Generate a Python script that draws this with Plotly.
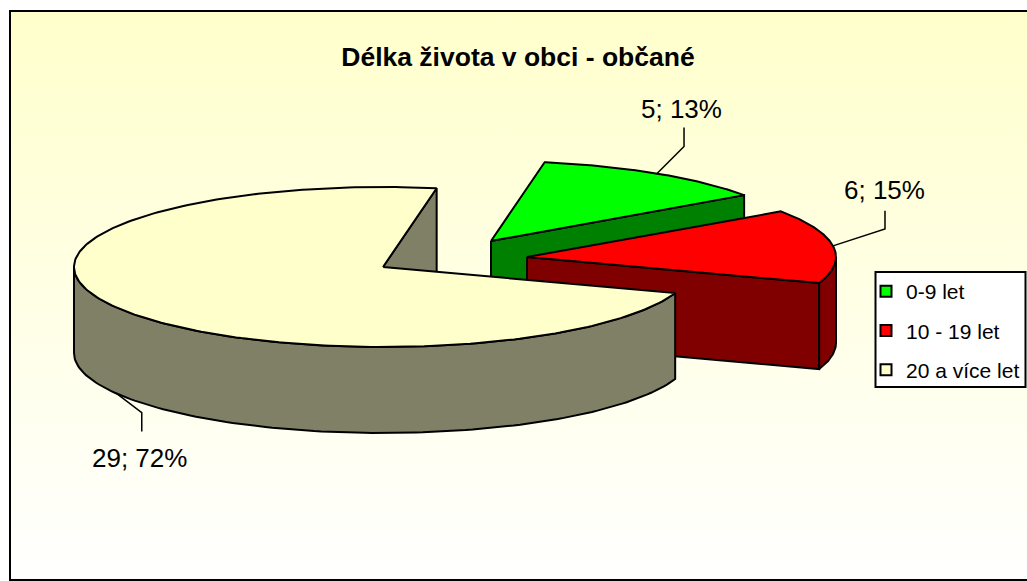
"""Exploded 3D-look pie: Délka života v obci - občané."""

import numpy as np
import plotly.graph_objects as go

FONT = "Liberation Sans, Arial, sans-serif"

categories = ["0-9 let", "10 - 19 let", "20 a více let"]
values = [5, 6, 29]
percents = [13, 15, 72]

top_colors = ["#00FF00", "#FF0000", "#FFFFCC"]
wall_colors = ["#008000", "#800000", "#808066"]

# Pie geometry, in page pixels (the axes below run 1:1 with the page)
RX, RY, DEPTH = 309, 80, 86
START_ANGLE = 10
CENTERS = [(491, 241), (527, 257), (383, 267)]
# label leader: elbow offset from the rim, then the straight end
LEADERS = [((27, -27), (0, -19)), ((52, -17), (0, -18)), ((25, 19), (0, 19))]
LABEL_OFFSET = [(-3, -19), (0, -21), (-2, 26)]


def rim(center, theta, drop=0):
    t = np.radians(theta)
    return center[0] + RX * np.sin(t), center[1] - RY * np.cos(t) + drop


def add_poly(fig, xs, ys, color):
    fig.add_trace(go.Scatter(
        x=list(xs), y=list(ys), mode="lines", fill="toself", fillcolor=color,
        line=dict(color="black", width=2), hoverinfo="skip", showlegend=False,
    ))


# angles come from the values, clockwise from twelve o'clock
total = sum(values)
edges = START_ANGLE + np.cumsum([0] + values) * 360 / total

fig = go.Figure()

# chart background
fig.add_trace(go.Scatter(
    x=[10, 1040, 1040, 10, 10], y=[11, 11, 580, 580, 11], mode="lines", fill="toself",
    line=dict(width=0), hoverinfo="skip", showlegend=False,
    fillgradient=dict(type="vertical", colorscale=[[0, "#FFFFFF"], [1, "#FFFFCC"]]),
))

for i in range(len(values)):
    c, a0, a1 = CENTERS[i], edges[i], edges[i + 1]

    # flat wall along one cut: the far cut of the green and red slices,
    # the near cut of the cream one
    ex, ey = rim(c, a1)
    add_poly(fig, [c[0], ex, ex, c[0], c[0]],
             [c[1], ey, ey + DEPTH, c[1] + DEPTH, c[1]], wall_colors[i])

    # outer wall, the front half of the rim only
    w0, w1 = max(a0, 90), min(a1, 270)
    if w1 > w0:
        arc = np.linspace(w0, w1, 120)
        tx, ty = rim(c, arc)
        bx, by = rim(c, arc[::-1], DEPTH)
        add_poly(fig, np.r_[tx, bx, tx[0]], np.r_[ty, by, ty[0]], wall_colors[i])

    # top face
    arc = np.linspace(a0, a1, 240)
    tx, ty = rim(c, arc)
    add_poly(fig, np.r_[c[0], tx, c[0]], np.r_[c[1], ty, c[1]], top_colors[i])

    # leader line and label at the middle of the slice
    mid = (a0 + a1) / 2
    drop = DEPTH if 90 < mid < 270 else 0
    mx, my = rim(c, mid, drop)
    (dx1, dy1), (dx2, dy2) = LEADERS[i]
    lx = [mx, mx + dx1, mx + dx1 + dx2]
    ly = [my, my + dy1, my + dy1 + dy2]
    fig.add_trace(go.Scatter(
        x=lx, y=ly, mode="lines", line=dict(color="black", width=1.5),
        hoverinfo="skip", showlegend=False,
    ))
    fig.add_annotation(
        x=lx[-1] + LABEL_OFFSET[i][0], y=ly[-1] + LABEL_OFFSET[i][1],
        text=f"{values[i]}; {percents[i]}%",
        showarrow=False, font=dict(family=FONT, size=26, color="black"),
    )

# legend keys
for name, color in zip(categories, top_colors):
    fig.add_trace(go.Scatter(
        x=[None], y=[None], mode="markers", name=name, legendgroup=name,
        marker=dict(symbol="square", size=11, color=color, line=dict(color="black", width=2)),
    ))

fig.update_layout(
    width=1027,
    height=581,
    autosize=False,
    margin=dict(l=0, r=0, t=0, b=0),
    paper_bgcolor="white",
    plot_bgcolor="rgba(0,0,0,0)",
    xaxis=dict(range=[0, 1027], visible=False, fixedrange=True),
    yaxis=dict(range=[581, 0], visible=False, fixedrange=True),
    title=dict(
        text="<b>Délka života v obci - občané</b>",
        x=518 / 1027, y=1 - 57 / 581, xanchor="center", yanchor="middle",
        font=dict(family=FONT, size=26.5, color="black"),
    ),
    legend=dict(
        x=866 / 1027, y=1 - 271 / 581, xanchor="left", yanchor="top",
        bgcolor="rgba(0,0,0,0)", borderwidth=0, tracegroupgap=9,
        font=dict(family=FONT, size=21, color="black"),
    ),
    shapes=[
        dict(type="rect", x0=10, x1=1040, y0=11, y1=580, line=dict(color="black", width=2)),
        dict(type="rect", x0=875.5, x1=1025.5, y0=272, y1=387,
             fillcolor="white", line=dict(color="black", width=2)),
    ],
)

# the page's default body margin would push the chart 8px off
fig.write_html(
    "out.html",
    config={"displayModeBar": False},
    post_script="document.body.style.margin='0';document.body.style.overflow='hidden';",
)
